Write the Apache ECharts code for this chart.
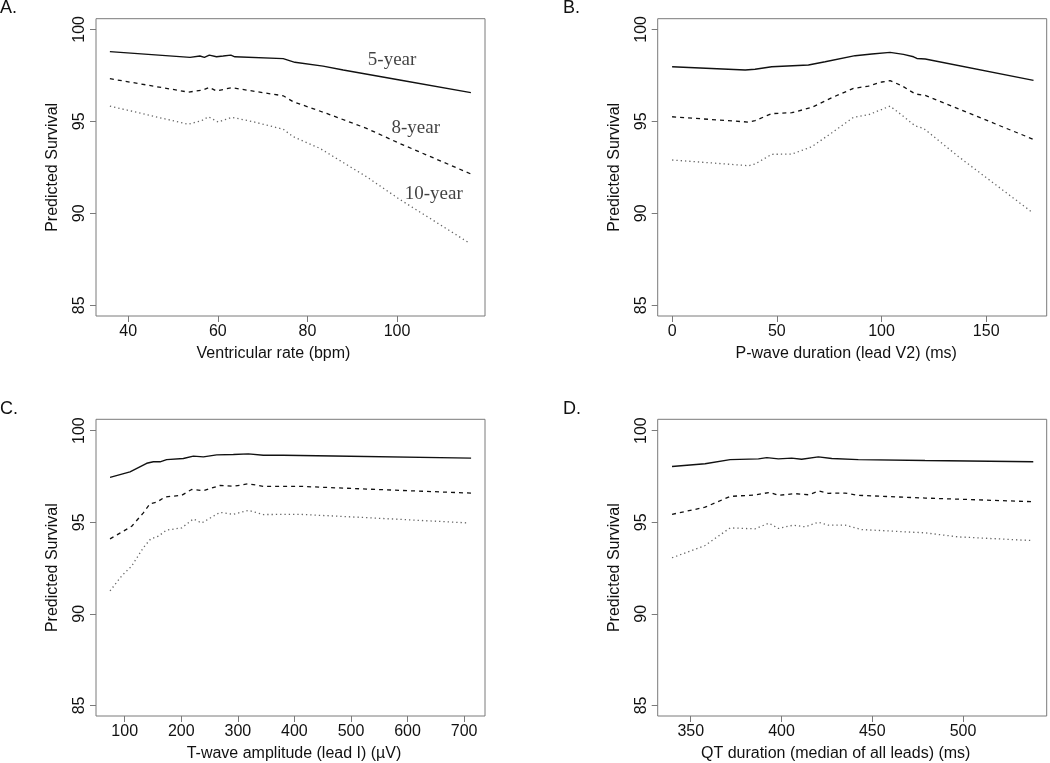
<!DOCTYPE html>
<html>
<head>
<meta charset="utf-8">
<script src="https://cdn.jsdelivr.net/npm/echarts@6/dist/echarts.min.js"></script>
<style>
html,body{margin:0;padding:0;background:#fff;}
#chart{width:1050px;height:763px;}
</style>
</head>
<body>
<div id="chart"></div>
<script>
// ---------------- DATA ----------------
// Panel A: Ventricular rate (bpm)
var aX5  = [35.9, 53.8, 56.0, 57.0, 58.1, 59.7, 61.2, 62.9, 63.8, 74.6, 77.2, 83.5, 88.0, 100.6, 116.5];
var aY5  = [98.79, 98.48, 98.55, 98.48, 98.60, 98.51, 98.55, 98.60, 98.51, 98.41, 98.21, 98.00, 97.79, 97.25, 96.56];
var aX8  = [35.9, 53.4, 56.7, 58.1, 59.7, 63.1, 66.4, 74.6, 76.8, 84.3, 93.2, 100.6, 116.5];
var aY8  = [97.32, 96.59, 96.70, 96.85, 96.65, 96.83, 96.70, 96.39, 96.07, 95.43, 94.62, 93.80, 92.14];
var aX10 = [35.9, 53.4, 56.4, 57.9, 60.1, 63.1, 67.9, 74.6, 76.8, 82.8, 93.2, 100.6, 116.0];
var aY10 = [95.83, 94.84, 95.04, 95.25, 94.96, 95.22, 94.98, 94.57, 94.17, 93.53, 91.99, 90.76, 88.41];

// Panel B: P-wave duration (lead V2) (ms)
var bX5  = [0, 34.9, 39.6, 47.6, 65.1, 73.1, 87.4, 95.4, 104.1, 110.5, 115.3, 116.9, 120.9, 172.6];
var bY5  = [97.97, 97.79, 97.83, 97.97, 98.06, 98.24, 98.57, 98.66, 98.75, 98.64, 98.51, 98.42, 98.39, 97.23];
var bX8  = [0, 36.5, 39.6, 47.6, 57.2, 66.7, 76.3, 86.6, 93.8, 100.2, 104.1, 109.7, 116.1, 120.9, 172.6];
var bY8  = [95.25, 94.96, 95.04, 95.42, 95.47, 95.76, 96.29, 96.79, 96.92, 97.14, 97.21, 96.94, 96.49, 96.41, 94.02];
var bX10 = [0, 36.5, 39.6, 47.6, 57.2, 66.7, 76.3, 86.6, 93.8, 100.2, 104.1, 109.7, 116.1, 120.1, 136.8, 171.8];
var bY10 = [92.90, 92.59, 92.68, 93.21, 93.22, 93.62, 94.38, 95.22, 95.36, 95.65, 95.83, 95.34, 94.75, 94.62, 93.08, 90.07];

// Panel C: T-wave amplitude (lead I) (µV)
var cX5  = [74.1, 109.4, 138.9, 150.7, 162.5, 174.2, 203.7, 221.4, 239.1, 262.6, 292.1, 318.6, 345.1, 380.5, 468.9, 712.3];
var cY5  = [97.45, 97.75, 98.22, 98.30, 98.30, 98.42, 98.48, 98.61, 98.57, 98.68, 98.70, 98.73, 98.66, 98.66, 98.62, 98.50];
var cX8  = [74.1, 97.6, 112.4, 133.0, 144.8, 156.6, 171.3, 200.8, 218.4, 239.1, 268.5, 292.1, 318.6, 345.1, 410.0, 527.8, 712.3];
var cY8  = [94.09, 94.51, 94.78, 95.51, 96.01, 96.09, 96.38, 96.47, 96.79, 96.72, 97.01, 96.96, 97.10, 96.96, 96.96, 96.81, 96.59];
var cX10 = [74.1, 94.7, 112.4, 133.0, 146.0, 159.5, 174.2, 200.8, 221.4, 236.1, 268.5, 292.1, 318.6, 345.1, 410.0, 527.8, 708.7];
var cY10 = [91.25, 92.07, 92.61, 93.61, 94.09, 94.24, 94.57, 94.69, 95.18, 94.96, 95.54, 95.43, 95.65, 95.42, 95.43, 95.25, 94.96];

// Panel D: QT duration (median of all leads) (ms)
var dX5  = [339.7, 357.9, 371.7, 387.3, 391.9, 398.3, 405.6, 411.1, 420.3, 427.7, 442.3, 479.1, 538.7];
var dY5  = [98.04, 98.19, 98.42, 98.46, 98.53, 98.46, 98.50, 98.44, 98.57, 98.48, 98.42, 98.37, 98.30];
var dX8  = [339.7, 357.9, 371.7, 385.4, 393.7, 398.3, 407.5, 414.8, 420.7, 425.8, 435.0, 442.3, 479.1, 538.7];
var dY8  = [95.43, 95.82, 96.41, 96.49, 96.63, 96.47, 96.56, 96.50, 96.70, 96.58, 96.59, 96.47, 96.32, 96.12];
var dX10 = [339.7, 357.9, 371.7, 385.4, 393.1, 398.3, 406.5, 413.0, 420.3, 425.8, 435.0, 444.2, 479.1, 497.4, 537.8];
var dY10 = [93.06, 93.73, 94.69, 94.64, 94.95, 94.66, 94.84, 94.75, 95.00, 94.84, 94.84, 94.60, 94.42, 94.20, 94.00];

// Tick labels
var yTicks  = [85, 90, 95, 100];
var aXTicks = [40, 60, 80, 100];
var bXTicks = [0, 50, 100, 150];
var cXTicks = [100, 200, 300, 400, 500, 600, 700];
var dXTicks = [350, 400, 450, 500];

// Text
var panelLetters = ['A.', 'B.', 'C.', 'D.'];
var xTitles = ['Ventricular rate (bpm)', 'P-wave duration (lead V2) (ms)', 'T-wave amplitude (lead I) (\u00b5V)', 'QT duration (median of all leads) (ms)'];
var yTitle = 'Predicted Survival';
var curveNames = ['5-year', '8-year', '10-year'];
var curveLabelX = [98.9, 104.2, 108.2];
var curveLabelY = [98.33, 94.65, 91.05];

// ---------------- BUILD ----------------
function zip(xs, ys) { return xs.map(function (x, i) { return [x, ys[i]]; }); }

var FONT = 'Liberation Sans, Arial, Helvetica, sans-serif';
var BOX = '#7a7a7a';
var FS = 16;

var grids = [
  { left: 96, right: 565, top: 18.7, bottom: 447 },
  { left: 657.7, right: 3.3, top: 18.7, bottom: 447 },
  { left: 96, right: 565, top: 419.3, bottom: 45.7 },
  { left: 657.7, right: 3.3, top: 419.3, bottom: 45.7 }
].map(function (g) {
  g.show = true; g.borderColor = BOX; g.borderWidth = 1; g.backgroundColor = 'transparent';
  return g;
});

var xRanges = [[32.8, 119.65], [-6.88, 178.9], [49.3, 736.9], [331.8, 546.1]];
var xTickSets = [aXTicks, bXTicks, cXTicks, dXTicks];
var yRanges = [[84.42, 100.58], [84.42, 100.58], [84.42, 100.62], [84.42, 100.62]];
var xNamePads = [[0, 34, 0, 0], [0, 12, 0, 0], [0, 0, 0, 7], [0, 33, 0, 0]];

var xAxes = [], yAxes = [];
for (var i = 0; i < 4; i++) {
  xAxes.push({
    type: 'value', gridIndex: i, min: xRanges[i][0], max: xRanges[i][1], position: 'bottom',
    axisLine: { show: false, onZero: false },
    axisTick: { show: true, length: 6, lineStyle: { color: BOX, width: 1 }, customValues: xTickSets[i] },
    axisLabel: { show: true, customValues: xTickSets[i], margin: 8, fontSize: FS, color: '#111', fontFamily: FONT },
    splitLine: { show: false },
    name: xTitles[i], nameLocation: 'middle', nameGap: 30,
    nameTextStyle: { fontSize: FS, color: '#111', fontFamily: FONT, padding: xNamePads[i] }
  });
  yAxes.push({
    type: 'value', gridIndex: i, min: yRanges[i][0], max: yRanges[i][1], position: 'left',
    axisLine: { show: false, onZero: false },
    axisTick: { show: true, length: 6, lineStyle: { color: BOX, width: 1 }, customValues: yTicks },
    axisLabel: { show: true, customValues: yTicks, rotate: 90, margin: 8, fontSize: FS, color: '#111', fontFamily: FONT },
    splitLine: { show: false },
    name: yTitle, nameLocation: 'middle', nameGap: 35,
    nameTextStyle: { fontSize: FS, color: '#111', fontFamily: FONT }
  });
}

var panels = [
  [zip(aX5, aY5), zip(aX8, aY8), zip(aX10, aY10)],
  [zip(bX5, bY5), zip(bX8, bY8), zip(bX10, bY10)],
  [zip(cX5, cY5), zip(cX8, cY8), zip(cX10, cY10)],
  [zip(dX5, dY5), zip(dX8, dY8), zip(dX10, dY10)]
];
var styles = [
  { color: '#111', width: 1.4, type: 'solid' },
  { color: '#111', width: 1.3, type: [4, 4] },
  { color: '#666', width: 1.3, type: [1.3, 3] }
];

var series = [];
panels.forEach(function (curves, p) {
  curves.forEach(function (d, k) {
    series.push({
      type: 'line', xAxisIndex: p, yAxisIndex: p, data: d,
      showSymbol: false, symbol: 'none', smooth: false, silent: true,
      lineStyle: styles[k], animation: false, name: curveNames[k]
    });
  });
});

series.push({
  type: 'scatter', xAxisIndex: 0, yAxisIndex: 0, symbolSize: 0, silent: true, animation: false,
  data: curveNames.map(function (n, k) { return { name: n, value: [curveLabelX[k], curveLabelY[k]] }; }),
  label: {
    show: true, position: 'inside', formatter: '{b}',
    fontFamily: 'Liberation Serif, Times New Roman, serif', fontSize: 19, color: '#111'
  }
});

var titles = [
  { text: panelLetters[0], left: 0, top: -1 },
  { text: panelLetters[1], left: 563, top: -1 },
  { text: panelLetters[2], left: 0, top: 400 },
  { text: panelLetters[3], left: 563, top: 400 }
].map(function (t) {
  t.padding = 0;
  t.textStyle = { fontSize: 18, fontWeight: 'normal', color: '#111', fontFamily: FONT };
  return t;
});

var chart = echarts.init(document.getElementById('chart'), null, { renderer: 'canvas' });
chart.setOption({
  backgroundColor: '#fff',
  animation: false,
  title: titles,
  grid: grids,
  xAxis: xAxes,
  yAxis: yAxes,
  series: series
});
</script>
</body>
</html>
